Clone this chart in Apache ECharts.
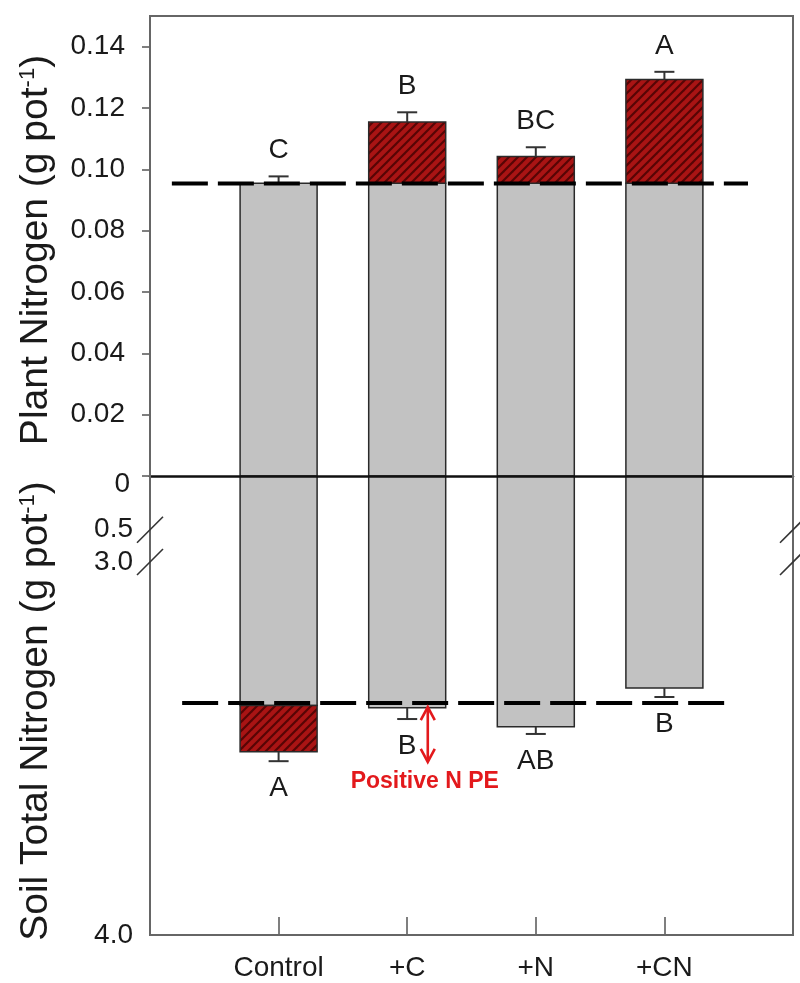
<!DOCTYPE html>
<html>
<head>
<meta charset="utf-8">
<script src="https://cdn.jsdelivr.net/npm/echarts@6/dist/echarts.min.js"></script>
<style>
  html, body { margin: 0; padding: 0; background: #fff; }
  #chart { width: 800px; height: 983px; }
</style>
</head>
<body>
<div id="chart"></div>
<script>
// Treatments along the x axis
const categories = ['Control', '+C', '+N', '+CN'];

// Plant nitrogen (g pot-1): control level shared by all bars (grey), treatment totals, SE, letters
const plantControl = 0.0955;
const plantTotal = [0.0955, 0.1154, 0.1042, 0.1293];
const plantSE = [0.0022, 0.0032, 0.0030, 0.0025];
const plantLetters = ['C', 'B', 'BC', 'A'];
const plantRef = 0.0954;
const plantTicks = [0, 0.02, 0.04, 0.06, 0.08, 0.10, 0.12, 0.14];

// Soil total nitrogen (g pot-1): grey part, bar total, SE, letters
const soilGrey = [3.385, 3.391, 3.442, 3.338];
const soilTotal = [3.509, 3.391, 3.442, 3.338];
const soilSE = [0.025, 0.030, 0.019, 0.024];
const soilLetters = ['A', 'B', 'AB', 'B'];
const soilRef = 3.378;
const soilTopTicks = [0, 0.5];
const soilTicks = [3.0, 4.0];

// Reference-line extents and the priming-effect arrow (data coordinates)
const plantRefSpan = [0.17, 4.65];
const soilRefSpan = [0.25, 4.53];
const peArrow = { x: 2.16, from: 3.389, to: 3.536, text: 'Positive N PE' };

// ---- layout & style ----
const FONT = 'Arial, "Liberation Sans", Helvetica, sans-serif';
const L = 150, W = 643, TOP = 16, ZERO = 476, BRK = 562, BOT = 935;
const BAR_W = 77;
const GREY = '#c2c2c2';
const EDGE = '#2a2a2a';
const TXT = '#1a1a1a';

// diagonal hatch for the treatment increments
function hatch() {
  const s = 9;
  const c = document.createElement('canvas');
  c.width = s; c.height = s;
  const g = c.getContext('2d');
  g.fillStyle = '#a91414';
  g.fillRect(0, 0, s, s);
  g.strokeStyle = '#560505';
  g.lineWidth = 2.1;
  [[0, s, s, 0], [-s / 2, s / 2, s / 2, -s / 2], [s / 2, s * 1.5, s * 1.5, s / 2]].forEach(function (p) {
    g.beginPath(); g.moveTo(p[0], p[1]); g.lineTo(p[2], p[3]); g.stroke();
  });
  return { image: c, repeat: 'repeat' };
}
const HATCH = hatch();

function errorBar(cx, y0, y1, kids) {
  kids.push({ type: 'line', shape: { x1: cx, y1: y0, x2: cx, y2: y1 }, style: { stroke: '#333', lineWidth: 2 } });
  kids.push({ type: 'line', shape: { x1: cx - 10, y1: y1, x2: cx + 10, y2: y1 }, style: { stroke: '#333', lineWidth: 2 } });
}

function plantItem(params, api) {
  const i = params.dataIndex, x = i + 1;
  const total = plantTotal[i];
  const grey = Math.min(total, plantControl);
  const p0 = api.coord([x, 0]);
  const pg = api.coord([x, grey]);
  const cx = p0[0], l = cx - BAR_W / 2;
  const kids = [
    { type: 'rect', shape: { x: l, y: pg[1], width: BAR_W, height: p0[1] - pg[1] },
      style: { fill: GREY, stroke: EDGE, lineWidth: 1.5 } }
  ];
  let end = pg;
  if (total > grey) {
    const pt = api.coord([x, total]);
    kids.push({ type: 'rect', shape: { x: l, y: pt[1], width: BAR_W, height: pg[1] - pt[1] },
      style: { fill: HATCH, stroke: EDGE, lineWidth: 1.5 } });
    end = pt;
  }
  const pe = api.coord([x, total + plantSE[i]]);
  errorBar(cx, end[1], pe[1], kids);
  kids.push({ type: 'text', style: { text: plantLetters[i], x: cx, y: pe[1] - 12, align: 'center',
    verticalAlign: 'bottom', fill: TXT, font: '28px ' + FONT } });
  return { type: 'group', children: kids };
}

function soilItem(withExtras) {
  return function (params, api) {
    const i = params.dataIndex, x = i + 1;
    const grey = soilGrey[i], total = soilTotal[i];
    const top = api.coord([x, 0]);
    const g = api.coord([x, grey]);
    const cx = top[0], l = cx - BAR_W / 2, r = cx + BAR_W / 2;
    const kids = [
      { type: 'rect', shape: { x: l, y: top[1], width: BAR_W, height: g[1] - top[1] }, style: { fill: GREY } },
      { type: 'polyline', shape: { points: [[l, top[1]], [l, g[1]], [r, g[1]], [r, top[1]]] },
        style: { stroke: EDGE, lineWidth: 1.5, fill: null } }
    ];
    if (!withExtras) return { type: 'group', children: kids };
    let end = g;
    if (total > grey) {
      const t = api.coord([x, total]);
      kids.push({ type: 'rect', shape: { x: l, y: g[1], width: BAR_W, height: t[1] - g[1] },
        style: { fill: HATCH, stroke: EDGE, lineWidth: 1.5 } });
      end = t;
    }
    const e = api.coord([x, total + soilSE[i]]);
    errorBar(cx, end[1], e[1], kids);
    kids.push({ type: 'text', style: { text: soilLetters[i], x: cx, y: e[1] + 13, align: 'center',
      verticalAlign: 'top', fill: TXT, font: '28px ' + FONT } });
    return { type: 'group', children: kids };
  };
}

function arrowItem(params, api) {
  const a = api.coord([peArrow.x, peArrow.from]);
  const b = api.coord([peArrow.x, peArrow.to]);
  const red = '#e3191c';
  const st = { stroke: red, lineWidth: 2.6, fill: null };
  return { type: 'group', children: [
    { type: 'line', shape: { x1: a[0], y1: a[1] + 1, x2: b[0], y2: b[1] - 1 }, style: st },
    { type: 'polyline', shape: { points: [[a[0] - 7, a[1] + 13], [a[0], a[1]], [a[0] + 7, a[1] + 13]] }, style: st },
    { type: 'polyline', shape: { points: [[b[0] - 7, b[1] - 13], [b[0], b[1]], [b[0] + 7, b[1] - 13]] }, style: st },
    { type: 'text', style: { text: peArrow.text, x: b[0] - 3, y: b[1] + 8, align: 'center', verticalAlign: 'top',
      fill: red, font: 'bold 23px ' + FONT } }
  ] };
}

const xy = categories.map(function (c, i) { return [i + 1, i]; });
const tickStyle = { color: '#555', width: 1.5 };

const chart = echarts.init(document.getElementById('chart'));
chart.setOption({
  animation: false,
  backgroundColor: '#fff',
  grid: [
    { left: L, top: TOP, width: W, height: ZERO - TOP },
    { left: L, top: ZERO, width: W, height: BRK - ZERO },
    { left: L, top: BRK, width: W, height: BOT - BRK }
  ],
  xAxis: [
    { gridIndex: 0, type: 'value', min: 0, max: 5, z: 10, splitLine: { show: false },
      axisLine: { show: true, lineStyle: { color: '#111', width: 2.5 } }, axisTick: { show: false }, axisLabel: { show: false } },
    { gridIndex: 1, type: 'value', min: 0, max: 5, show: false },
    { gridIndex: 2, type: 'value', min: 0, max: 5, splitLine: { show: false },
      axisLine: { show: false },
      axisTick: { show: true, inside: true, length: 18, lineStyle: tickStyle, customValues: [1, 2, 3, 4] },
      axisLabel: { margin: 19, fontSize: 28, fontFamily: FONT, color: TXT, customValues: [1, 2, 3, 4],
        formatter: function (v) { return categories[Math.round(v) - 1] || ''; } } }
  ],
  yAxis: [
    { gridIndex: 0, type: 'value', min: 0, max: 0.15, splitLine: { show: false },
      axisLine: { show: false },
      axisTick: { show: true, length: 8, lineStyle: tickStyle, customValues: plantTicks },
      axisLabel: { margin: 25, fontSize: 28, fontFamily: FONT, color: TXT, customValues: plantTicks.slice(1),
        formatter: function (v) { return v.toFixed(2); } } },
    { gridIndex: 1, type: 'value', min: 0, max: 0.8, inverse: true, splitLine: { show: false },
      axisLine: { show: false }, axisTick: { show: false },
      axisLabel: { margin: 17, fontSize: 28, fontFamily: FONT, color: TXT, customValues: soilTopTicks,
        formatter: function (v) { return v === 0 ? '{z|0}' : v.toFixed(1); },
        rich: { z: { fontSize: 28, fontFamily: FONT, color: TXT, padding: [16, 3, 0, 0] } } } },
    { gridIndex: 2, type: 'value', min: 3, max: 4, inverse: true, splitLine: { show: false },
      axisLine: { show: false }, axisTick: { show: false },
      axisLabel: { margin: 17, fontSize: 28, fontFamily: FONT, color: TXT, customValues: soilTicks,
        formatter: function (v) { return v.toFixed(1); } } }
  ],
  series: [
    { type: 'custom', xAxisIndex: 0, yAxisIndex: 0, renderItem: plantItem, data: xy, z: 2 },
    { type: 'line', xAxisIndex: 0, yAxisIndex: 0, z: 5, symbol: 'none', silent: true,
      data: [[plantRefSpan[0], plantRef], [plantRefSpan[1], plantRef]],
      lineStyle: { color: '#000', width: 4, type: [36, 10] } },
    { type: 'custom', xAxisIndex: 1, yAxisIndex: 1, clip: true, renderItem: soilItem(false), data: xy, z: 2 },
    { type: 'custom', xAxisIndex: 2, yAxisIndex: 2, clip: true, renderItem: soilItem(true), data: xy, z: 2 },
    { type: 'line', xAxisIndex: 2, yAxisIndex: 2, z: 5, symbol: 'none', silent: true,
      data: [[soilRefSpan[0], soilRef], [soilRefSpan[1], soilRef]],
      lineStyle: { color: '#000', width: 4, type: [36, 10] } },
    { type: 'custom', xAxisIndex: 2, yAxisIndex: 2, renderItem: arrowItem, data: [[peArrow.x, peArrow.to]], z: 6 }
  ]
});

// frame, axis-break marks and axis titles
const yHalf = chart.convertToPixel({ yAxisIndex: 1 }, 0.5);
const yThree = chart.convertToPixel({ yAxisIndex: 2 }, 3.0);
const slashes = [];
[yHalf, yThree].forEach(function (y) {
  [L, L + W].forEach(function (x) {
    slashes.push({ type: 'line', z: 20, shape: { x1: x - 13, y1: y + 13, x2: x + 13, y2: y - 13 },
      style: { stroke: '#333', lineWidth: 1.6 } });
  });
});
function title(text, cx, cy) {
  return { type: 'text', x: cx, y: cy, rotation: Math.PI / 2, z: 20,
    style: { text: '{a|' + text + '}{s|-1}{a|)}', align: 'center', verticalAlign: 'middle',
      rich: { a: { fontSize: 39, fontFamily: FONT, fill: TXT, color: TXT },
              s: { fontSize: 22, fontFamily: FONT, fill: TXT, color: TXT, verticalAlign: 'top' } } } };
}
chart.setOption({
  graphic: [
    { type: 'rect', z: 15, shape: { x: L, y: TOP, width: W, height: BOT - TOP },
      style: { fill: null, stroke: '#666', lineWidth: 2 } },
    title('Plant Nitrogen (g pot', 36, 250),
    title('Soil Total Nitrogen (g pot', 36, 711)
  ].concat(slashes)
});
</script>
</body>
</html>
